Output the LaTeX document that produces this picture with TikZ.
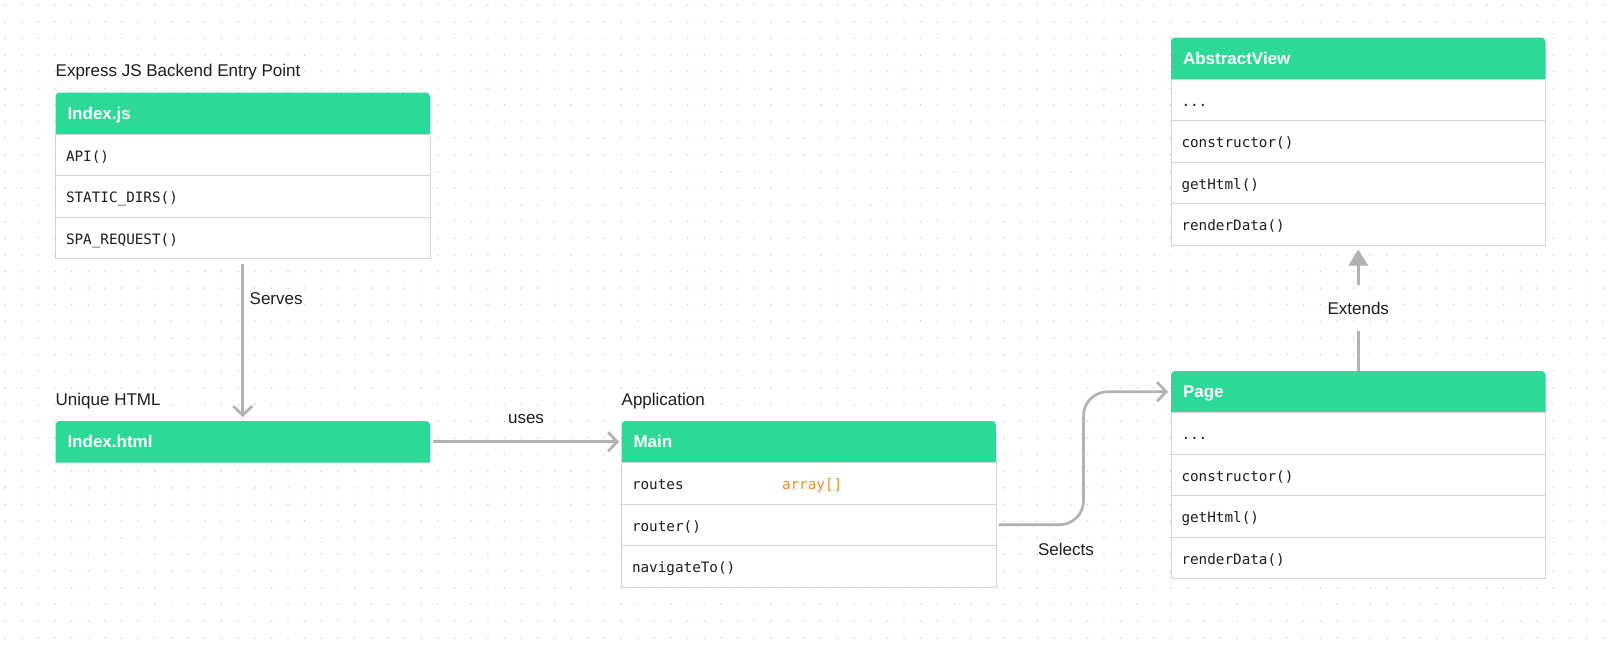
\documentclass[tikz,border=0pt]{standalone}
\usepackage{fontspec}
\setmainfont{Liberation Sans}
\newfontfamily\codefont{DejaVu Sans Mono}
\usetikzlibrary{arrows.meta,calc}
\definecolor{hdrgreen}{RGB}{46,216,151}
\definecolor{rowline}{RGB}{212,212,212}
\definecolor{conngray}{RGB}{178,178,178}
\definecolor{dotgray}{RGB}{212,212,212}
\definecolor{txtdark}{RGB}{30,30,30}
\definecolor{typeorange}{RGB}{242,140,40}
\newcommand\hdrfill[2]{%
  \fill[hdrgreen] (#1,#2+41.5) [rounded corners=4pt] -- (#1,#2) -- (#1+374.5,#2) [sharp corners] -- (#1+374.5,#2+41.5) -- cycle;}
\begin{document}
\begin{tikzpicture}[x=1pt,y=-1pt,
  hdr/.style={anchor=north west, inner xsep=12pt, inner ysep=0pt, outer sep=0pt, text width=350.5pt, minimum height=41.5pt,
    align=left, text=white, font=\fontsize{17}{20}\selectfont\bfseries, text height=12.2pt, text depth=0pt},
  row/.style={anchor=north, inner xsep=10.5pt, inner ysep=0pt, outer sep=0pt, text width=353.5pt, minimum height=41.5pt,
    align=left, draw=rowline, line width=1pt, fill=white, text=txtdark,
    font=\codefont\fontsize{14.3}{17}\selectfont, text height=12.5pt, text depth=0pt},
  lbl/.style={inner sep=0pt, text=txtdark, font=\fontsize{17}{20}\selectfont},
  conn/.style={draw=conngray, line width=2.7pt},
  chev/.style={-{Straight Barb[length=9pt,width=19pt]}}
]
\fill[white] (0,0) rectangle (1611,653);
\useasboundingbox (0,0) rectangle (1611,653);
\foreach \i in {0,...,96} {
  \foreach \j in {0,...,38} {
    \fill[dotgray] (5+16.65*\i,5+16.65*\j) circle (0.9pt);
  }
}

% Index.js
\node[lbl, anchor=base west] (lexpress) at (55.5,76) {Express JS Backend Entry Point};
\hdrfill{55.5}{92.5}
\node[hdr] (idxjs) at (55.5,92.5) {Index.js};
\node[row] (idxjs1) at (idxjs.south) {API()};
\node[row] (idxjs2) at (idxjs1.south) {STATIC\_DIRS()};
\node[row] (idxjs3) at (idxjs2.south) {SPA\_REQUEST()};

% Index.html
\node[lbl, anchor=base west] (lunique) at (55.5,405.5) {Unique HTML};
\hdrfill{55.5}{421}
\node[hdr] (idxhtml) at (55.5,421) {Index.html};

% Main
\node[lbl, anchor=base west] (lapp) at (621.5,405.5) {Application};
\hdrfill{621.5}{421}
\node[hdr] (main) at (621.5,421) {Main};
\node[row] (main1) at (main.south) {\makebox[150pt][l]{routes}\textcolor{typeorange}{array[]}};
\node[row] (main2) at (main1.south) {router()};
\node[row] (main3) at (main2.south) {navigateTo()};

% AbstractView
\hdrfill{1171}{37.5}
\node[hdr] (av) at (1171,37.5) {AbstractView};
\node[row] (av1) at (av.south) {...};
\node[row] (av2) at (av1.south) {constructor()};
\node[row] (av3) at (av2.south) {getHtml()};
\node[row] (av4) at (av3.south) {renderData()};

% Page
\hdrfill{1171}{371}
\node[hdr] (page) at (1171,371) {Page};
\node[row] (page1) at (page.south) {...};
\node[row] (page2) at (page1.south) {constructor()};
\node[row] (page3) at (page2.south) {getHtml()};
\node[row] (page4) at (page3.south) {renderData()};

% connectors
\draw[conn, chev, shorten <=5.5pt, shorten >=4pt] (idxjs3.south) -- (idxhtml.north);
\node[lbl, anchor=base west] (lserves) at (249.5,304) {Serves};

\draw[conn, chev, shorten <=3pt, shorten >=2.5pt] (idxhtml.east) -- (main.west);
\node[lbl, anchor=base] (luses) at (526,423.5) {uses};

\coordinate (selmid) at ($(main2.east)!0.5!(page.west)$);
\draw[conn, chev, rounded corners=24pt, shorten <=2.5pt, shorten >=3pt] (main2.east) -| (selmid) |- (page.west);
\node[lbl, anchor=base] (lselects) at (1066,555.5) {Selects};

\node[lbl, anchor=center, minimum height=46pt] (lext) at (1358.25,308) {Extends};
\draw[conn, shorten <=0.5pt] (page.north) -- (lext.south);
\draw[conn, -{Triangle[length=16pt,width=19pt]}, shorten >=4.5pt] (lext.north) -- (av4.south);
\end{tikzpicture}
\end{document}
